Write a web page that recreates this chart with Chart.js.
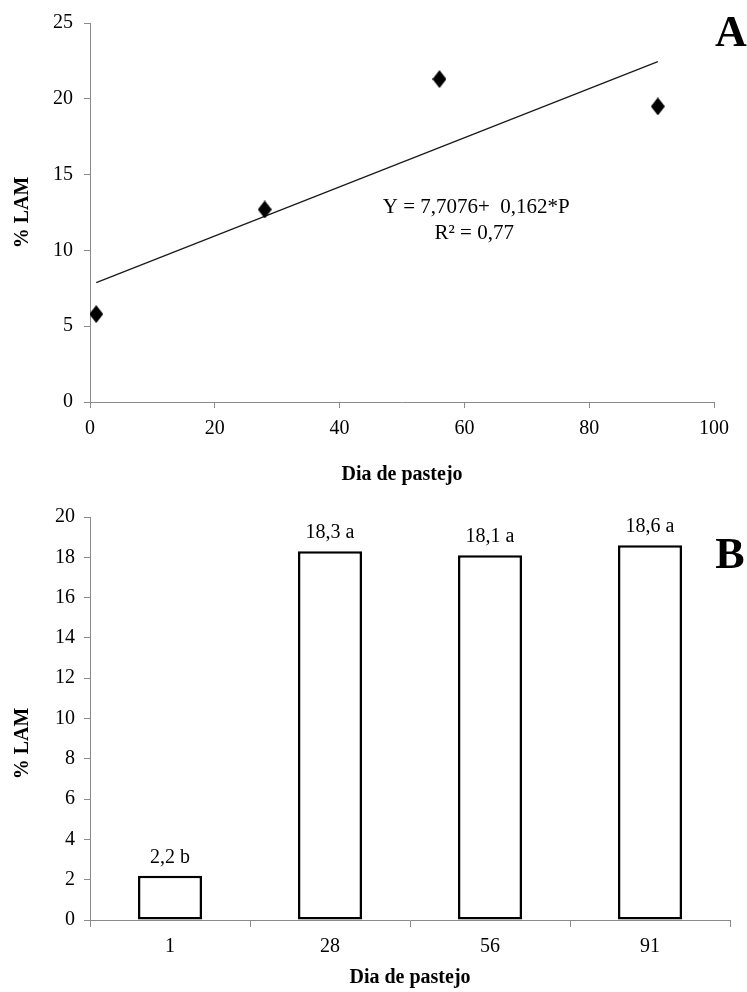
<!DOCTYPE html>
<html>
<head>
<meta charset="utf-8">
<script src="https://cdn.jsdelivr.net/npm/chart.js@4.4.1/dist/chart.umd.min.js"></script>
<style>
  html, body { margin: 0; padding: 0; background: #fff; }
  canvas { display: block; }
</style>
</head>
<body>
<canvas id="panelA" width="747" height="492"></canvas>
<canvas id="panelB" width="747" height="500"></canvas>
<script>
// Panel A: % LAM by grazing day, with the fitted regression line
const grazingDays = [1, 28, 56, 91];
const lamPercent = [5.8, 12.7, 21.3, 19.5];
const fitIntercept = 7.7076;
const fitSlope = 0.162;
const fitR2 = 0.77;
const fitDayRange = [1, 91];
const dayTicksA = [0, 20, 40, 60, 80, 100];
const lamTicksA = [0, 5, 10, 15, 20, 25];

// Panel B: mean % LAM per grazing day with Tukey letters
const barDays = ['1', '28', '56', '91'];
const barLam = [2.2, 18.3, 18.1, 18.6];
const barGroups = ['b', 'a', 'a', 'a'];
const lamTicksB = [0, 2, 4, 6, 8, 10, 12, 14, 16, 18, 20];

const SERIF = '"Liberation Serif", "Times New Roman", serif';
const AXIS_GREY = '#8a8a8a';
const comma = v => String(v).replace('.', ',');

Chart.defaults.color = '#000';
Chart.defaults.font.family = SERIF;
Chart.defaults.font.size = 20;

// Tall diamond marker
function diamond(w, h) {
  const c = document.createElement('canvas');
  c.width = w; c.height = h;
  const g = c.getContext('2d');
  g.fillStyle = '#000';
  g.beginPath();
  g.moveTo(w / 2, 0); g.lineTo(w, h / 2); g.lineTo(w / 2, h); g.lineTo(0, h / 2);
  g.closePath(); g.fill();
  return c;
}

const fixedTicks = list => scale => { scale.ticks = list.map(v => ({ value: v })); };

// Panel letter plus axis captions
const panelDecor = {
  id: 'panelDecor',
  afterDraw(chart, args, o) {
    const { ctx, chartArea: a } = chart;
    ctx.save();
    ctx.fillStyle = '#000';
    ctx.textAlign = 'center';
    ctx.textBaseline = 'middle';
    ctx.font = 'bold 44px ' + SERIF;
    ctx.fillText(o.letter, a.right + o.letterDx, a.top + o.letterDy);
    ctx.font = 'bold 20px ' + SERIF;
    ctx.fillText('Dia de pastejo', (a.left + a.right) / 2, a.bottom + o.xTitleDy);
    ctx.translate(o.yTitleX, (a.top + a.bottom) / 2 + o.yTitleDy);
    ctx.rotate(-Math.PI / 2);
    ctx.fillText('% LAM', 0, 0);
    ctx.restore();
  }
};

// Regression equation written next to the line
const equationNote = {
  id: 'equationNote',
  afterDatasetsDraw(chart) {
    const { ctx, scales } = chart;
    const x = scales.x.getPixelForValue(61.9);
    const y = scales.y.getPixelForValue(12.85);
    ctx.save();
    ctx.fillStyle = '#000';
    ctx.font = '21px ' + SERIF;
    ctx.textAlign = 'center';
    ctx.textBaseline = 'middle';
    ctx.fillText('Y = ' + comma(fitIntercept) + '+  ' + comma(fitSlope) + '*P', x, y);
    ctx.fillText('R\u00B2 = ' + comma(fitR2), x - 2, y + 26);
    ctx.restore();
  }
};

// Value + group letter above each bar
const barNotes = {
  id: 'barNotes',
  afterDatasetsDraw(chart) {
    const { ctx } = chart;
    const meta = chart.getDatasetMeta(0);
    ctx.save();
    ctx.fillStyle = '#000';
    ctx.font = '20px ' + SERIF;
    ctx.textAlign = 'center';
    ctx.textBaseline = 'alphabetic';
    meta.data.forEach((bar, i) => {
      ctx.fillText(comma(barLam[i]) + ' ' + barGroups[i], bar.x, bar.y - 13);
    });
    ctx.restore();
  }
};

const axisGrid = len => ({
  drawOnChartArea: false,
  drawTicks: true,
  tickLength: len,
  color: AXIS_GREY,
  lineWidth: 1
});
const axisBorder = { display: true, color: AXIS_GREY, width: 1 };

new Chart(document.getElementById('panelA'), {
  data: {
    datasets: [
      {
        type: 'scatter',
        data: grazingDays.map((d, i) => ({ x: d, y: lamPercent[i] })),
        pointStyle: diamond(14, 18),
        pointRadius: 8,
        order: 1
      },
      {
        type: 'line',
        data: fitDayRange.map(d => ({ x: d, y: fitIntercept + fitSlope * d })),
        borderColor: '#1a1a1a',
        borderWidth: 1.3,
        pointRadius: 0,
        fill: false,
        order: 2
      }
    ]
  },
  options: {
    responsive: false,
    animation: false,
    devicePixelRatio: 1,
    layout: { padding: { top: 23, right: 33, left: 0, bottom: 0 } },
    plugins: {
      legend: { display: false },
      tooltip: { enabled: false },
      panelDecor: { letter: 'A', letterDx: 17, letterDy: 12, xTitleDy: 73, yTitleX: 23, yTitleDy: 0 }
    },
    scales: {
      x: {
        type: 'linear', min: 0, max: 100,
        afterBuildTicks: fixedTicks(dayTicksA),
        afterFit: s => { s.height = 90; },
        grid: axisGrid(6), border: axisBorder,
        ticks: { padding: 9 }
      },
      y: {
        type: 'linear', min: 0, max: 25,
        afterBuildTicks: fixedTicks(lamTicksA),
        afterFit: s => { s.width = 90; },
        grid: axisGrid(6), border: axisBorder,
        ticks: { padding: 11 }
      }
    }
  },
  plugins: [panelDecor, equationNote]
});

new Chart(document.getElementById('panelB'), {
  type: 'bar',
  data: {
    labels: barDays,
    datasets: [{
      data: barLam,
      backgroundColor: '#fff',
      borderColor: '#000',
      borderWidth: 2.5,
      borderSkipped: false,
      barPercentage: 0.4,
      categoryPercentage: 1.0
    }]
  },
  options: {
    responsive: false,
    animation: false,
    devicePixelRatio: 1,
    layout: { padding: { top: 25, right: 17, left: 0, bottom: 0 } },
    plugins: {
      legend: { display: false },
      tooltip: { enabled: false },
      panelDecor: { letter: 'B', letterDx: 0, letterDy: 40, xTitleDy: 58, yTitleX: 23, yTitleDy: 25 }
    },
    scales: {
      x: {
        afterFit: s => { s.height = 72; },
        grid: Object.assign(axisGrid(7), { offset: true }), border: axisBorder,
        ticks: { padding: 8 }
      },
      y: {
        min: 0, max: 20,
        afterBuildTicks: fixedTicks(lamTicksB),
        afterFit: s => { s.width = 90; },
        grid: axisGrid(6), border: axisBorder,
        ticks: { padding: 9 }
      }
    }
  },
  plugins: [panelDecor, barNotes]
});
</script>
</body>
</html>
